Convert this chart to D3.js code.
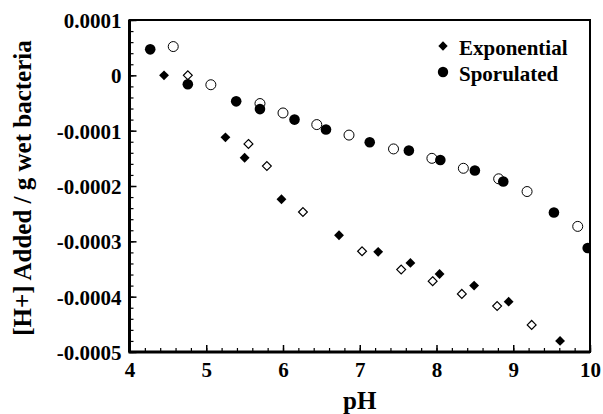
<!DOCTYPE html>
<html>
<head>
<meta charset="utf-8">
<script src="https://cdn.jsdelivr.net/npm/d3@7"></script>
<style>
  body { margin: 0; background: #fff; }
  svg { display: block; font-family: "Liberation Serif", "Times New Roman", serif; font-weight: bold; }
</style>
</head>
<body>
<div id="chart"></div>
<script>
const w = 603;
const h = 414;

// pH / [H+] added pairs
const expFilled = [
  [4.45, 0], [5.25, -0.000112], [5.50, -0.000149], [5.98, -0.000224],
  [6.73, -0.000289], [7.24, -0.000319], [7.66, -0.000339], [8.04, -0.000359],
  [8.49, -0.000380], [8.94, -0.000409], [9.61, -0.000480]
];
const expOpen = [
  [4.76, 0], [5.55, -0.000124], [5.79, -0.000164], [6.26, -0.000247],
  [7.03, -0.000318], [7.54, -0.000351], [7.95, -0.000372], [8.33, -0.000395],
  [8.79, -0.000417], [9.24, -0.000451]
];
const sporFilled = [
  [4.27, 0.000047], [4.76, -0.000016], [5.39, -0.000047], [5.70, -0.000061],
  [6.15, -0.000080], [6.56, -0.000098], [7.13, -0.000121], [7.64, -0.000136],
  [8.05, -0.000153], [8.50, -0.000172], [8.87, -0.000192], [9.53, -0.000248],
  [9.97, -0.000312]
];
const sporOpen = [
  [4.57, 0.000052], [5.06, -0.000017], [5.70, -0.000051], [6.00, -0.000068],
  [6.44, -0.000089], [6.86, -0.000108], [7.44, -0.000133], [7.94, -0.000150],
  [8.35, -0.000168], [8.81, -0.000187], [9.18, -0.000210], [9.84, -0.000273]
];

const xTicks = [4, 5, 6, 7, 8, 9, 10];
const yTicks = [0.0001, 0, -0.0001, -0.0002, -0.0003, -0.0004, -0.0005];
const yTickLabels = ["0.0001", "0", "-0.0001", "-0.0002", "-0.0003", "-0.0004", "-0.0005"];
const legendItems = [
  { label: "Exponential", shape: "diamond" },
  { label: "Sporulated", shape: "circle" }
];

const pLeft = 129.5, pRight = 590, pTop = 20, pBottom = 352;

const x = d3.scaleLinear().domain([4, 10]).range([pLeft, pRight]);
const y = d3.scaleLinear().domain([-0.0005, 0.0001]).range([pBottom, pTop]);

const svg = d3.select("#chart").append("svg")
  .attr("width", w).attr("height", h);

svg.append("defs").append("clipPath").attr("id", "plot")
  .append("rect").attr("x", pLeft).attr("y", pTop)
  .attr("width", pRight - pLeft).attr("height", pBottom - pTop);

// minor ticks
const xMinor = d3.range(4, 10.001, 0.2);
const yMinor = d3.range(-0.0005, 0.00010001, 0.00002);

svg.append("g").attr("transform", `translate(0,${pBottom})`)
  .call(d3.axisBottom(x).tickValues(xMinor).tickSize(-4).tickFormat(""))
  .call(g => g.select(".domain").remove())
  .selectAll("line").attr("stroke-width", 1.2);

svg.append("g").attr("transform", `translate(${pLeft},0)`)
  .call(d3.axisLeft(y).tickValues(yMinor).tickSize(-4).tickFormat(""))
  .call(g => g.select(".domain").remove())
  .selectAll("line").attr("stroke-width", 1.2);

// major ticks
const xAxis = svg.append("g").attr("transform", `translate(0,${pBottom})`)
  .call(d3.axisBottom(x).tickValues(xTicks).tickSize(-7).tickPadding(0).tickFormat(d3.format("d")));
xAxis.select(".domain").remove();
xAxis.selectAll("line").attr("stroke-width", 1.5);
xAxis.selectAll("text")
  .attr("y", 25).attr("dy", null)
  .style("font-size", "21px").style("font-family", "Liberation Serif").style("font-weight", "bold")
  .attr("fill", "#000");

const yAxis = svg.append("g").attr("transform", `translate(${pLeft},0)`)
  .call(d3.axisLeft(y).tickValues(yTicks).tickSize(-7)
    .tickFormat((d, i) => yTickLabels[i]));
yAxis.select(".domain").remove();
yAxis.selectAll("line").attr("stroke-width", 1.5);
yAxis.selectAll("text")
  .attr("x", -8).attr("dy", "0.35em")
  .style("font-size", "21px").style("font-family", "Liberation Serif").style("font-weight", "bold")
  .attr("fill", "#000");

// frame
svg.append("rect")
  .attr("x", pLeft).attr("y", pTop)
  .attr("width", pRight - pLeft).attr("height", pBottom - pTop)
  .attr("fill", "none").attr("stroke", "#000").attr("stroke-width", 2);
svg.append("line").attr("x1", pLeft - 1).attr("x2", pRight).attr("y1", pBottom).attr("y2", pBottom)
  .attr("stroke", "#000").attr("stroke-width", 3);
svg.append("line").attr("x1", pLeft).attr("x2", pLeft).attr("y1", pTop).attr("y2", pBottom)
  .attr("stroke", "#000").attr("stroke-width", 3);

const diamond = d3.symbol().type(d3.symbolDiamond2);
const marks = svg.append("g").attr("clip-path", "url(#plot)");

marks.selectAll(".ef").data(expFilled).enter().append("path")
  .attr("d", diamond.size(62)())
  .attr("transform", d => `translate(${x(d[0])},${y(d[1])})`)
  .attr("fill", "#000");

marks.selectAll(".eo").data(expOpen).enter().append("path")
  .attr("d", diamond.size(50)())
  .attr("transform", d => `translate(${x(d[0])},${y(d[1])})`)
  .attr("fill", "#fff").attr("stroke", "#000").attr("stroke-width", 1.2);

marks.selectAll(".so").data(sporOpen).enter().append("circle")
  .attr("cx", d => x(d[0])).attr("cy", d => y(d[1])).attr("r", 5)
  .attr("fill", "#fff").attr("stroke", "#000").attr("stroke-width", 1);

marks.selectAll(".sf").data(sporFilled).enter().append("circle")
  .attr("cx", d => x(d[0])).attr("cy", d => y(d[1])).attr("r", 5.3)
  .attr("fill", "#000");

// redraw right border above clipped marks
svg.append("line").attr("x1", pRight).attr("x2", pRight).attr("y1", pTop - 1).attr("y2", pBottom + 1)
  .attr("stroke", "#000").attr("stroke-width", 2);

// legend
const legend = svg.append("g");
legendItems.forEach((item, i) => {
  const ly = 46 + i * 26;
  if (item.shape === "diamond") {
    legend.append("path").attr("d", diamond.size(56)())
      .attr("transform", `translate(443,${ly})`).attr("fill", "#000");
  } else {
    legend.append("circle").attr("cx", 443).attr("cy", ly).attr("r", 5.2).attr("fill", "#000");
  }
  legend.append("text").attr("x", 459).attr("y", ly + 9)
    .style("font-size", "21px").text(item.label);
});

// axis titles
svg.append("text").attr("x", (pLeft + pRight) / 2).attr("y", 409)
  .attr("text-anchor", "middle").style("font-size", "25px").text("pH");

svg.append("text")
  .attr("transform", `translate(31,${(pTop + pBottom) / 2 + 2}) rotate(-90)`)
  .attr("text-anchor", "middle").style("font-size", "25px")
  .text("[H+] Added / g wet bacteria");
</script>
</body>
</html>
